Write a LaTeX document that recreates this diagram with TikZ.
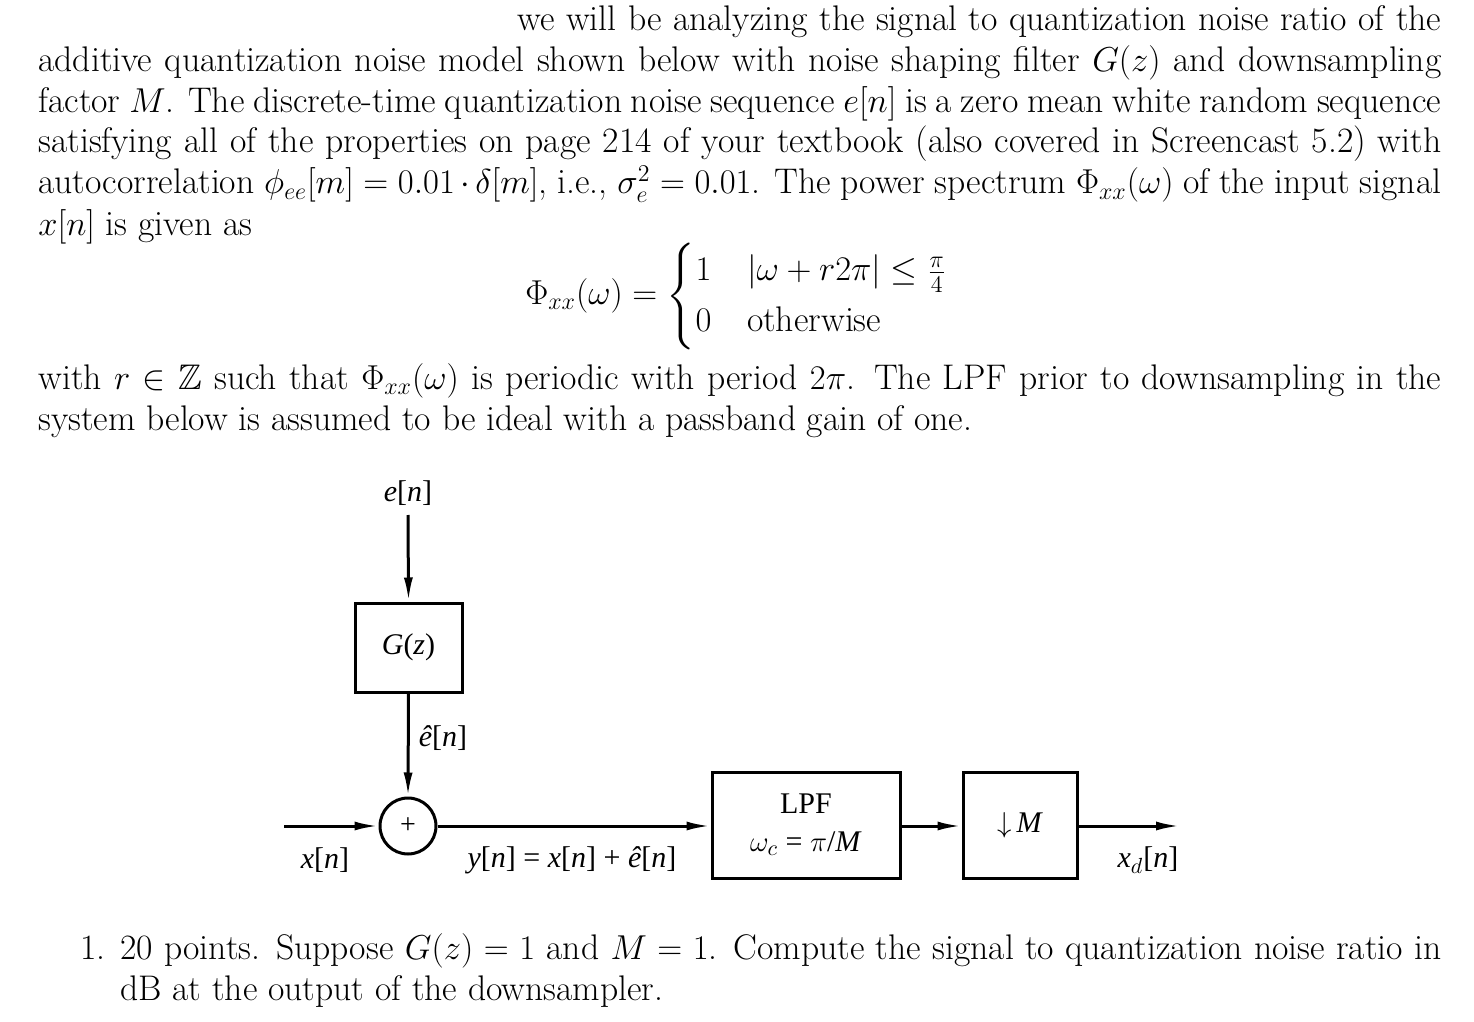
\documentclass[tikz,border=0pt]{standalone}
\usepackage{amsmath,amssymb}
\usepackage{fontspec}
\newfontfamily\tms{Liberation Serif}
\usetikzlibrary{arrows.meta}
\begin{document}
\begin{tikzpicture}[x=0.5pt,y=-0.5pt,
  txt/.style={anchor=base west,inner sep=0,font=\fontsize{17.8}{21}\selectfont},
  lab/.style={inner sep=0,font=\tms\fontsize{15}{17}\selectfont},
  blk/.style={draw,line width=1.5pt,inner sep=0},
  sig/.style={line width=1.5pt,-{Latex[length=12pt,width=4.5pt]}}]
\useasboundingbox (0,0) rectangle (1474,1022);
\node[txt] (l1) at (517,31) {\makebox[462pt][s]{we will be analyzing the signal to quantization noise ratio of the}};
\node[txt] (l2) at (38,72) {\makebox[701.5pt][s]{additive quantization noise model shown below with noise shaping filter $G(z)$ and downsampling}};
\node[txt] (l3) at (38,113) {\makebox[701.5pt][s]{factor $M$. The discrete-time quantization noise sequence $e[n]$ is a zero mean white random sequence}};
\node[txt] (l4) at (38,153) {\makebox[701.5pt][s]{satisfying all of the properties on page 214 of your textbook (also covered in Screencast 5.2) with}};
\node[txt] (l5) at (38,194) {\makebox[701.5pt][s]{autocorrelation $\phi_{ee}[m]=0.01\cdot\delta[m]$, i.e., $\sigma_e^2=0.01$. The power spectrum $\Phi_{xx}(\omega)$ of the input signal}};
\node[txt] (l6) at (38,235) {$x[n]$ is given as};
\node[inner sep=0,font=\fontsize{17.8}{21}\selectfont] (eq) at (737,296) {$\Phi_{xx}(\omega)=\begin{cases}1 & |\omega+r2\pi|\le\frac{\pi}{4}\\ 0 & \text{otherwise}\end{cases}$};
\node[txt] (l7) at (38,389) {\makebox[701.5pt][s]{with $r\in\mathbb{Z}$ such that $\Phi_{xx}(\omega)$ is periodic with period $2\pi$. The LPF prior to downsampling in the}};
\node[txt] (l8) at (38,430) {system below is assumed to be ideal with a passband gain of one.};
\node[txt] (n1) at (80,959) {1.};
\node[txt] (i1) at (120,959) {\makebox[660.5pt][s]{20 points. Suppose $G(z)=1$ and $M=1$. Compute the signal to quantization noise ratio in}};
\node[txt] (i2) at (120,1000) {dB at the output of the downsampler.};
% diagram
\node[lab] (e) at (408,493) {\textit{e}[\textit{n}]};
\node[blk,minimum width=53.5pt,minimum height=44.5pt] (G) at (408.5,647.5) {};
\node[lab] at (G) {\textit{G}(\textit{z})};
\node[draw,circle,line width=1.5pt,minimum size=28pt,inner sep=0] (sum) at (408,826) {};
\node[font=\tms\fontsize{14}{16}\selectfont] at (sum) {+};
\node[lab] (eh) at (443,738) {\textit{ê}[\textit{n}]};
\coordinate (in) at (284,826);
\node[lab] (x) at (325,860) {\textit{x}[\textit{n}]};
\node[blk,minimum width=94pt,minimum height=53pt] (lpf) at (806,825) {};
\node[lab,align=center] at (lpf) {LPF\\[2pt]$\omega_c$ = $\pi$/\textit{M}};
\node[lab] (y) at (572,860) {\textit{y}[\textit{n}] = \textit{x}[\textit{n}] + \textit{ê}[\textit{n}]};
\node[blk,minimum width=57pt,minimum height=53pt] (dm) at (1020,825) {};
\node[lab] at (dm) {$\downarrow$\,\textit{M}};
\coordinate (out) at (1180,826);
\node[lab] (xd) at (1148,860) {\textit{x}$_d$[\textit{n}]};
\draw[sig] (408,515) -- (G.north);
\draw[sig] (G.south) -- (sum.north);
\draw[sig] (in) -- (sum.west);
\draw[sig] (sum.east) -- (lpf.west |- sum.east);
\draw[sig] (lpf.east |- sum.east) -- (dm.west |- sum.east);
\draw[sig] (dm.east |- sum.east) -- (out);
\end{tikzpicture}
\end{document}
